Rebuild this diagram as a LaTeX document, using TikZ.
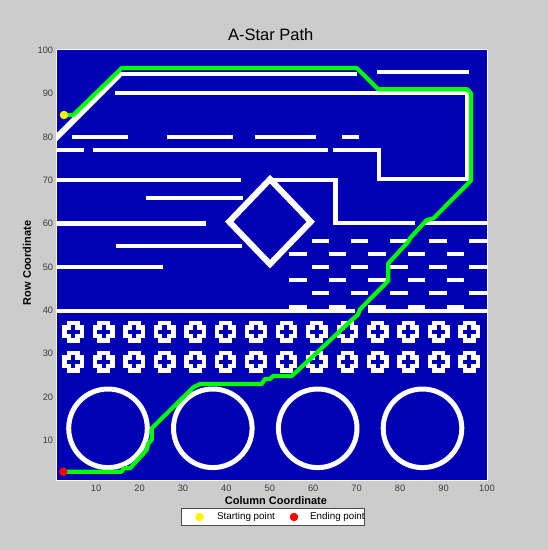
\documentclass[tikz,border=0pt]{standalone}
\usepackage{fontspec}
\setmainfont{Liberation Sans}
\definecolor{figgray}{RGB}{204,204,204}
\definecolor{mapblue}{RGB}{0,0,180}
\definecolor{pathgreen}{RGB}{0,255,0}
\definecolor{ticktext}{RGB}{60,60,60}
\begin{document}
\begin{tikzpicture}[x=1pt,y=-1pt,
  wall/.style={white,line width=4.34pt,line join=miter},
  thickwall/.style={white,line width=6pt,line join=miter},
  ring/.style={white,line width=5pt},
  route/.style={pathgreen,line width=4.2pt,line join=round,line cap=round},
  ticklab/.style={font=\fontsize{9.3}{10}\selectfont,text=ticktext,inner sep=0pt},
  axlab/.style={font=\fontsize{11}{12}\selectfont\bfseries,inner sep=0pt},
  leglab/.style={font=\fontsize{9.8}{11}\selectfont,inner sep=0pt,anchor=west},
  marker/.style={circle,inner sep=0pt,minimum size=8.5pt}
]
\fill[figgray] (0,0) rectangle (548,550);
\useasboundingbox (0,0) rectangle (548,550);
% axes background
\fill[mapblue] (57,50) rectangle (487,479.5);
\begin{scope}
\clip (57,50) rectangle (487,479.5);
% top diagonal and lines
\draw[thickwall] (52,142) -- (119.5,74.5);
\draw[wall] (116,73.8) -- (357,73.8);
\draw[wall] (377,71.8) -- (469,71.8);
\draw[wall] (115,93) -- (467,93) -- (467,178.8) -- (379,178.8) -- (379,149.7) -- (333.3,149.7);
% row 80 dashes
\draw[wall] (71.7,136.8) -- (128.3,136.8);
\draw[wall] (167.3,136.8) -- (232.7,136.8);
\draw[wall] (255,136.8) -- (315.7,136.8);
\draw[wall] (342.3,136.8) -- (359,136.8);
% row 77
\draw[wall] (57,149.7) -- (84.3,149.7);
\draw[wall] (93.3,149.7) -- (328.3,149.7);
% row 70
\draw[wall] (57,180.2) -- (241,180.2);
\draw[wall] (272,180.2) -- (335.5,180.2) -- (335.5,223) -- (415,223);
\draw[wall] (425,223) -- (487,223);
% rows 66, 60, 55, 50
\draw[wall] (145.7,198.3) -- (243,198.3);
\draw[wall] (57,223.6) -- (206,223.6);
\draw[wall] (115.7,245.8) -- (241.7,245.8);
\draw[wall] (57,267) -- (162.7,267);
% diamond
\draw[thickwall] (270,179.2) -- (310.8,221.7) -- (270,264.1) -- (229.2,221.7) -- cycle;
% dashes field
\foreach \yy in {241,266.7,293.3}{
  \foreach \xa/\xb in {311.7/329,351/368.3,390/407.7,429/446.7,469/487}{
    \draw[wall] (\xa,\yy) -- (\xb,\yy);
  }
}
\foreach \yy in {254,280.3,306.8}{
  \foreach \xa/\xb in {289.3/306.7,329.3/346,368.3/386,408.3/425,447.3/464.3}{
    \draw[wall] (\xa,\yy) -- (\xb,\yy);
  }
}
% row 40 wall
\draw[wall] (57,310.8) -- (355,310.8);
\draw[wall] (368,310.8) -- (487,310.8);
% crosses
\foreach \k in {0,...,13}{
  \foreach \cy in {331.7,361.7}{
    \pgfmathsetmacro{\cx}{73.3+30.45*\k}
    \fill[white] (\cx-10.85,\cy-6.51) rectangle (\cx+10.85,\cy+6.51);
    \fill[white] (\cx-6.51,\cy-10.85) rectangle (\cx+6.51,\cy+10.85);
    \fill[mapblue] (\cx-6.51,\cy-2.17) rectangle (\cx+6.51,\cy+2.17);
    \fill[mapblue] (\cx-2.17,\cy-6.51) rectangle (\cx+2.17,\cy+6.51);
  }
}
% circles
\foreach \ccx in {108,212.8,317.7,422.5}{
  \draw[ring] (\ccx,428.3) circle[radius=39.3pt];
}
\end{scope}
% axes frame
\draw[white,line width=1.4pt] (56.3,49.3) rectangle (487.7,480.2);
% path
\draw[route] (64,115) -- (73.3,115) -- (121.7,68) -- (356.7,68) -- (378.3,89.3)
  -- (467.3,89.3) -- (471,93.3) -- (471,180.5) -- (433.3,218.5) -- (426.7,220)
  -- (410,238.3) -- (408.3,241.7) -- (388.3,263.3) -- (388.3,280.7) -- (360,309.3)
  -- (357.7,315) -- (351.7,320) -- (298.3,370) -- (291.7,376) -- (273.3,376)
  -- (270,379) -- (265,379) -- (261.7,384) -- (200,384) -- (193.3,387.3)
  -- (151.7,428.3) -- (151.7,440) -- (148.3,443.3) -- (146.7,450) -- (130,468.3)
  -- (124,468.3) -- (121.7,471.7) -- (63.3,471.7);
\node[marker,fill=yellow] (start) at (64,115) {};
\node[marker,fill=red] (goal) at (63.3,471.7) {};
% tick labels
\foreach \v in {10,20,...,100}{
  \pgfmathsetmacro{\yy}{479.5-(\v-1)*4.338}
  \node[ticklab,anchor=east] at (53.3,\yy) {\v};
  \pgfmathsetmacro{\xx}{57+(\v-1)*4.343}
  \node[ticklab,anchor=base] at (\xx,491.4) {\v};
}
% title and labels
\node[font=\fontsize{16.5}{18}\selectfont,inner sep=0pt] (title) at (270.7,35) {A-Star Path};
\node[axlab] (xlab) at (276,500.5) {Column Coordinate};
\node[axlab,rotate=90] (ylab) at (27,263) {Row Coordinate};
% legend
\draw[fill=white,draw=black!70,line width=0.6pt] (181,508.5) rectangle (364,525.5);
\node[marker,fill=yellow] (legstart) at (199.5,517) {};
\node[leglab] (legstarttext) at (217,517) {Starting point};
\node[marker,fill=red] (leggoal) at (294,517) {};
\node[leglab] (leggoaltext) at (310,517) {Ending point};
\end{tikzpicture}
\end{document}
